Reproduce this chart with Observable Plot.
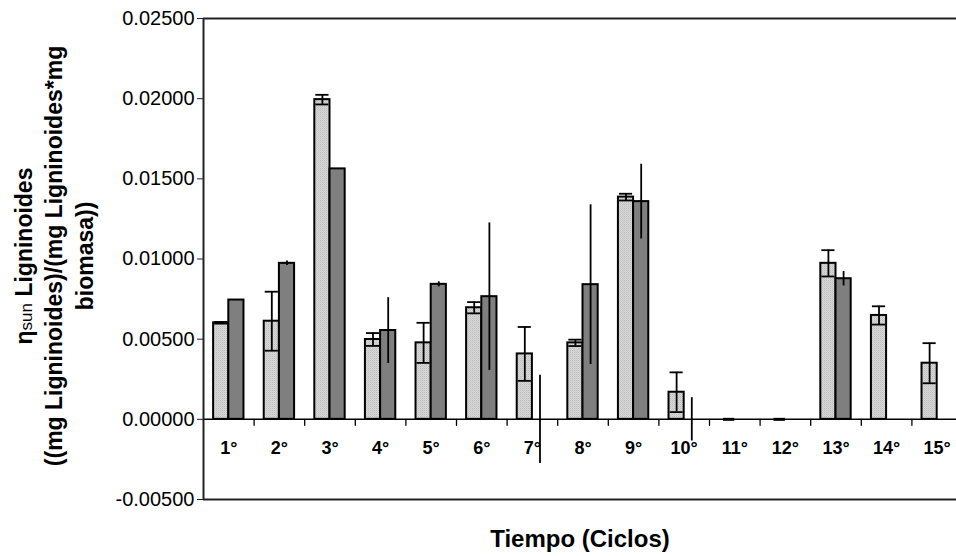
<!DOCTYPE html>
<html>
<head>
<meta charset="utf-8">
<script src="https://cdn.jsdelivr.net/npm/d3@7"></script>
<script src="https://cdn.jsdelivr.net/npm/@observablehq/plot@0.6"></script>
<style>
  html, body { margin: 0; padding: 0; background: #fff; }
  #chart { width: 956px; height: 556px; }
</style>
</head>
<body>
<div id="chart"></div>
<script>
const ciclos = ["1°","2°","3°","4°","5°","6°","7°","8°","9°","10°","11°","12°","13°","14°","15°"];
const serie1 = [0.00602, 0.00612, 0.01994, 0.00498, 0.00477, 0.00696, 0.00408, 0.00477, 0.01386, 0.00169, 0, 0, 0.00973, 0.00648, 0.00350];
const error1 = [0.00005, 0.00184, 0.00030, 0.00040, 0.00125, 0.00035, 0.00168, 0.00020, 0.00021, 0.00124, 0, 0, 0.00082, 0.00057, 0.00125];
const serie2 = [0.00744, 0.00973, 0.01562, 0.00554, 0.00842, 0.00765, 0, 0.00840, 0.01358, 0, 0, 0, 0.00877, 0, 0];
const error2 = [0.00003, 0.00014, 0, 0.00205, 0.00016, 0.00460, 0.00275, 0.00498, 0.00233, 0.00135, 0, 0, 0.00045, 0, 0];
const yTicks = [-0.005, 0, 0.005, 0.01, 0.015, 0.02, 0.025];
const xTitle = "Tiempo (Ciclos)";
const yTitle1a = "η", yTitle1b = "sun", yTitle1c = " Ligninoides";
const yTitle2 = "((mg Ligninoides)/(mg Ligninoides*mg";
const yTitle3 = "biomasa))";

const rows = ciclos.map((c, i) => ({i: i + 1, c, v1: serie1[i], e1: error1[i], v2: serie2[i], e2: error2[i]}));
const bounds = ciclos.slice(1).map((c, i) => i + 1.5);
const W = 0.3, CAP = 0.13;
const e1rows = rows.filter(d => d.e1 > 0);
const e2rows = rows.filter(d => d.e2 > 0);
const zeroRows = rows.filter(d => d.v1 === 0);
const lineShape = {draw(ctx, l) { ctx.moveTo(0, 0); ctx.lineTo(0, -l); }};

const plot = Plot.plot({
  width: 956,
  height: 556,
  marginTop: 18,
  marginBottom: 57,
  marginLeft: 203,
  marginRight: 0,
  style: {fontFamily: "'Liberation Sans', Arial, sans-serif", background: "white"},
  x: {domain: [0.5, 15.5], range: [203, 962], axis: null},
  y: {domain: [-0.005, 0.025], axis: null},
  marks: [
    Plot.rectY(rows.filter(d => d.v1 > 0), {x1: d => d.i - W, x2: d => d.i, y1: 0, y2: d => d.v1, fill: "url(#lightDots)", stroke: "black", strokeWidth: 2}),
    Plot.rectY(rows.filter(d => d.v2 > 0), {x1: d => d.i, x2: d => d.i + W, y1: 0, y2: d => d.v2, fill: "#7f7f7f", stroke: "black", strokeWidth: 2}),
    Plot.ruleX(e1rows, {x: d => d.i - W / 2, y1: d => d.v1 - d.e1, y2: d => d.v1 + d.e1, stroke: "black", strokeWidth: 1.8}),
    Plot.ruleY(e1rows, {y: d => d.v1 + d.e1, x1: d => d.i - W / 2 - CAP, x2: d => d.i - W / 2 + CAP, stroke: "black", strokeWidth: 1.8}),
    Plot.ruleY(e1rows, {y: d => d.v1 - d.e1, x1: d => d.i - W / 2 - CAP, x2: d => d.i - W / 2 + CAP, stroke: "black", strokeWidth: 1.8}),
    Plot.ruleX(e2rows, {x: d => d.i + W / 2, y1: d => d.v2 - d.e2, y2: d => d.v2 + d.e2, stroke: "black", strokeWidth: 1.8}),
    Plot.ruleY([0], {stroke: "black", strokeWidth: 1.5}),
    Plot.ruleY(zeroRows, {y: d => d.v1, x1: d => d.i - W * 0.75, x2: d => d.i, stroke: "black", strokeWidth: 3}),
    Plot.vector(bounds, {x: d => d, y: 0, length: 6, rotate: 180, anchor: "start", shape: lineShape, stroke: "black", strokeWidth: 1.3}),
    Plot.text(rows, {x: d => d.i, y: 0, text: d => d.c, dy: 29, fontSize: 18, fontWeight: "bold", fill: "black"}),
    Plot.ruleY([yTicks[0], yTicks[yTicks.length - 1]], {stroke: "#222", strokeWidth: 2}),
    Plot.ruleX([0.5], {stroke: "#222", strokeWidth: 2}),
    Plot.axisY({ticks: yTicks, tickFormat: d => d.toFixed(5), tickSize: 6, tickPadding: 3, fontSize: 20, stroke: "#222", label: null})
  ]
});

const svg = d3.select(plot);
const defs = svg.insert("defs", ":first-child");
const pat = defs.append("pattern").attr("id", "lightDots").attr("width", 2).attr("height", 2).attr("patternUnits", "userSpaceOnUse");
pat.append("rect").attr("width", 2).attr("height", 2).attr("fill", "#d8d8d8");
pat.append("rect").attr("width", 1).attr("height", 1).attr("fill", "#bdbdbd");
pat.append("rect").attr("x", 1).attr("y", 1).attr("width", 1).attr("height", 1).attr("fill", "#cbcbcb");

const titles = svg.append("g").attr("font-family", "'Liberation Sans', Arial, sans-serif").attr("fill", "black");
titles.append("text").attr("x", 580).attr("y", 547).attr("text-anchor", "middle").attr("font-size", 24).attr("font-weight", "bold").text(xTitle);
const cy = 256;
const t1 = titles.append("text").attr("transform", `translate(32,${cy}) rotate(-90)`).attr("text-anchor", "middle").attr("font-size", 23).attr("font-weight", "bold");
t1.append("tspan").text(yTitle1a);
t1.append("tspan").attr("font-size", 17).attr("font-weight", "normal").text(yTitle1b);
t1.append("tspan").text(yTitle1c);
titles.append("text").attr("transform", `translate(62,${cy}) rotate(-90)`).attr("text-anchor", "middle").attr("font-size", 23).attr("font-weight", "bold").text(yTitle2);
titles.append("text").attr("transform", `translate(93,${cy}) rotate(-90)`).attr("text-anchor", "middle").attr("font-size", 23).attr("font-weight", "bold").text(yTitle3);

document.getElementById("chart").appendChild(plot);
</script>
</body>
</html>
